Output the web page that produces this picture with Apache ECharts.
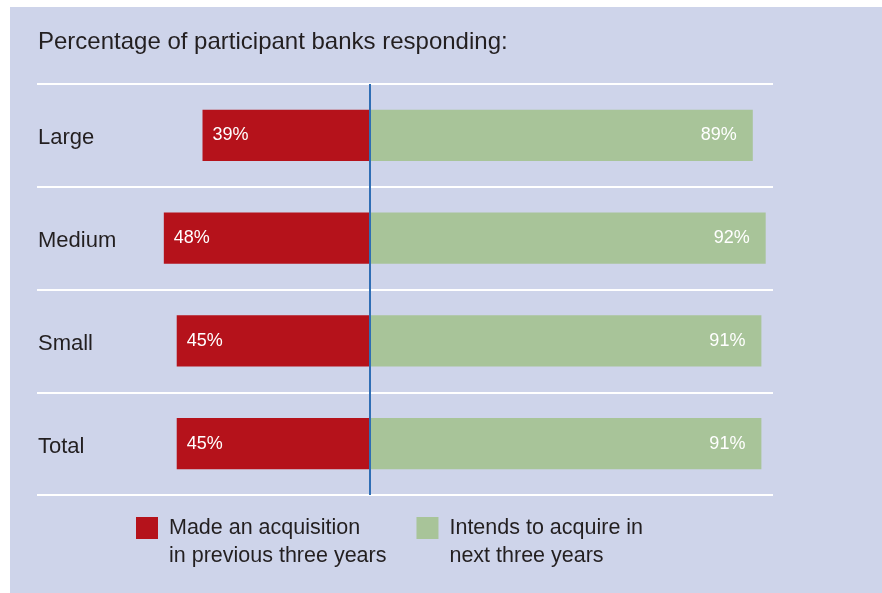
<!DOCTYPE html>
<html>
<head>
<meta charset="utf-8">
<script src="https://cdn.jsdelivr.net/npm/echarts@6/dist/echarts.min.js"></script>
<style>
  html, body { margin: 0; padding: 0; background: #ffffff; }
  #chart { position: absolute; left: 10px; top: 7px; width: 872px; height: 586px; background: #ced4ea; }
</style>
</head>
<body>
<div id="chart"></div>
<script>
const categories = ['Large', 'Medium', 'Small', 'Total'];
const madeAcquisition = [39, 48, 45, 45];
const intendsToAcquire = [89, 92, 91, 91];
const seriesNames = ['Made an acquisition\nin previous three years', 'Intends to acquire in\nnext three years'];
const titleText = 'Percentage of participant banks responding:';

const FONT = "'Liberation Sans', Arial, sans-serif";
const TEXT = '#231f20';

const chart = echarts.init(document.getElementById('chart'), null, { renderer: 'canvas' });
chart.setOption({
  backgroundColor: '#ced4ea',
  animation: false,
  title: {
    text: titleText,
    left: 28, top: 23, padding: 0,
    textStyle: { fontFamily: FONT, fontSize: 24, fontWeight: 'normal', color: TEXT }
  },
  legend: {
    left: 126, top: 479, padding: 0,
    itemWidth: 22, itemHeight: 22, itemGap: 30,
    icon: 'rect',
    formatter: name => '\n' + name.split('\n').map(s => ' ' + s).join('\n'),
    textStyle: { fontFamily: FONT, fontSize: 21.5, color: TEXT, lineHeight: 28 },
    data: seriesNames
  },
  grid: { left: 27, right: 109, top: 77, bottom: 98, containLabel: false },
  xAxis: {
    type: 'value', min: -77.5, max: 93.7,
    axisLine: { show: false }, axisTick: { show: false },
    axisLabel: { show: false }, splitLine: { show: false }
  },
  yAxis: {
    type: 'category', data: categories, inverse: true,
    axisLine: { show: false }, axisTick: { show: false },
    axisLabel: { align: 'left', verticalAlign: 'top', lineHeight: 6, margin: -1, fontFamily: FONT, fontSize: 22, color: TEXT },
    splitLine: { show: true, lineStyle: { color: '#ffffff', width: 2 } }
  },
  series: [
    {
      name: seriesNames[0], type: 'bar', stack: 'a', barWidth: '50%',
      itemStyle: { color: '#b5121b' },
      data: madeAcquisition.map(v => -v),
      label: {
        show: true, position: 'insideLeft', distance: 10,
        formatter: p => Math.abs(p.value) + '%',
        fontFamily: FONT, fontSize: 18, color: '#ffffff'
      },
      markLine: {
        silent: true, symbol: 'none', animation: false,
        label: { show: false },
        lineStyle: { color: '#2f6eb5', width: 2, type: 'solid' },
        data: [{ xAxis: 0 }]
      }
    },
    {
      name: seriesNames[1], type: 'bar', stack: 'a', barWidth: '50%',
      itemStyle: { color: '#a8c499' },
      data: intendsToAcquire,
      label: {
        show: true, position: 'insideRight', distance: 16,
        formatter: p => p.value + '%',
        fontFamily: FONT, fontSize: 18, color: '#ffffff'
      }
    }
  ]
});
</script>
</body>
</html>
